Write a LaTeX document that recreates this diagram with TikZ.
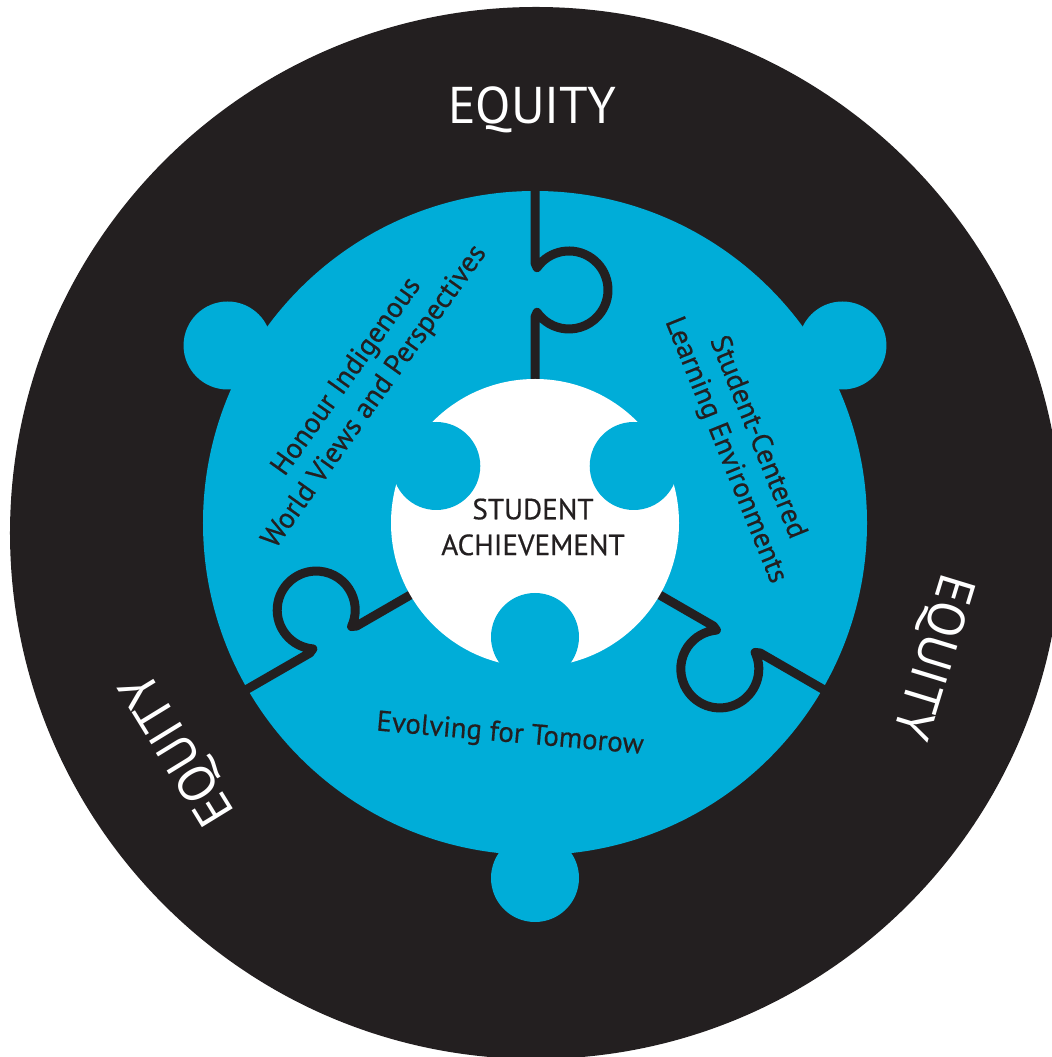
\documentclass[tikz,border=0pt]{standalone}
\usepackage{fontspec}
\setmainfont{PT Sans}
\newfontfamily\piecefont[BoldFont={PT Sans},BoldFeatures={FakeBold=0.5}]{PT Sans}
\definecolor{puzzleblue}{RGB}{0,173,216}
\definecolor{ink}{RGB}{35,31,32}

\begin{document}
\begin{tikzpicture}[lbl/.style={font=\piecefont\bfseries\fontsize{8.2}{9.8}\selectfont,align=center,text=ink},eq/.style={font=\fontsize{14.7}{16}\selectfont,text=white},seam/.style={draw=ink,line width=0.09cm,line join=round}]
\useasboundingbox (-5.35,-5.34) rectangle (5.17,5.23);
% outer ring, blue disc with its three knobs
\fill[ink] (0.01,-0.10) circle (5.26);
\fill[puzzleblue] (0,0) circle (3.32);
\foreach \a in {30,150,270} \fill[puzzleblue] (\a:3.55) circle (0.44);
% the three seams between the pieces
\foreach \r in {0,120,240} \draw[seam,rotate=\r] (0,3.45) -- (0,2.60) -- (0.0205,2.5537) arc[start angle=145,end angle=-145,radius=0.39] -- (0,2.06) -- (0,1.3);
% white centre piece with its sockets
\fill[white] (0,0) circle (1.44);
\foreach \a in {30,150,270} \fill[puzzleblue] (\a:1.14) circle (0.44);
\node[eq] (eqTop) at (-0.025,4.13) {EQUITY};
\node[eq,rotate=-107] (eqRight) at (3.96,-1.33) {EQUITY};
\node[eq,rotate=121.5] (eqLeft) at (-3.55,-2.25) {EQUITY};
\node[lbl,rotate=54.5] (honour) at (-1.74,1.36) {Honour Indigenous\\World Views and Perspectives};
\node[lbl,rotate=-68] (centred) at (2.06,0.79) {Student-Centered\\Learning Environments};
\node[lbl,rotate=-5] (evolve) at (-0.25,-2.12) {Evolving for Tomorow};
\node[lbl,font=\piecefont\bfseries\fontsize{8.3}{10.2}\selectfont] (core) at (-0.02,-0.04) {STUDENT\\ACHIEVEMENT};
\end{tikzpicture}
\end{document}
